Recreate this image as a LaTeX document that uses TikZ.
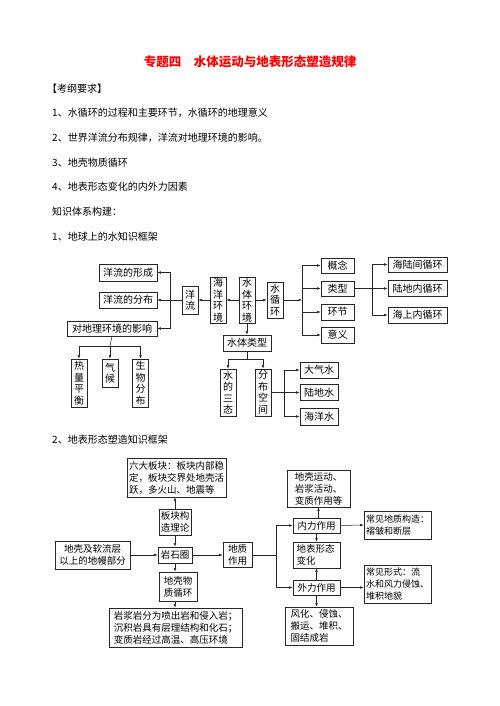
\documentclass[tikz,border=0pt]{standalone}
\usepackage{fontspec}
\setmainfont{Noto Sans CJK SC}
\usetikzlibrary{arrows.meta,shadows}
\tikzset{
  box/.style={draw=black!85, line width=0.6pt, fill=white, inner sep=1pt,
    font=\fontsize{10}{11.5}\selectfont,
    drop shadow={shadow xshift=0.8pt, shadow yshift=-0.8pt, fill=black!50}},
  vbox/.style={box, align=center, minimum width=16pt},
  tbox/.style={box, align=left, inner xsep=2pt, font=\fontsize{9.5}{12}\selectfont},
  cbox/.style={box, align=center, font=\fontsize{9.5}{12}\selectfont},
  txt/.style={anchor=west, inner sep=0pt, font=\fontsize{10}{12}\selectfont},
  link/.style={line width=0.5pt, black!85},
}
\begin{document}
\begin{tikzpicture}[x=1pt,y=-1pt,>={Latex[length=3.5pt,width=2.6pt]}]
            \useasboundingbox (0,0) rectangle (500,706);
            \node[font=\fontsize{12.5}{15}\selectfont\bfseries, text=red] (title) at (250,62) {专题四　水体运动与地表形态塑造规律};
            \node[txt] (req) at (47,89) {【考纲要求】};
            \node[txt] (req1) at (52,113) {1、水循环的过程和主要环节，水循环的地理意义};
            \node[txt] (req2) at (52,138) {2、世界洋流分布规律，洋流对地理环境的影响。};
            \node[txt] (req3) at (52,163) {3、地壳物质循环};
            \node[txt] (req4) at (52,187) {4、地表形态变化的内外力因素};
            \node[txt] (know) at (52,212) {知识体系构建：};
            \node[txt] (part1) at (52,237) {1、地球上的水知识框架};
            \node[txt] (part2) at (52,440) {2、地表形态塑造知识框架};
            \node[box, minimum width=58pt, minimum height=17pt] (xc) at (128,272.5) {洋流的形成};
            \node[box, minimum width=58pt, minimum height=16pt] (fb) at (128,300) {洋流的分布};
            \node[box, minimum width=90pt, minimum height=15pt] (yx) at (112,328.5) {对地理环境的影响};
            \node[vbox, minimum height=28pt] (yl) at (190,300) {洋\\流};
            \node[vbox, minimum height=46pt] (hy) at (218,300) {海\\洋\\环\\境};
            \node[vbox, minimum height=46pt] (st) at (247,300) {水\\体\\环\\境};
            \node[vbox, minimum height=36pt] (sx) at (275,300) {水\\循\\环};
            \node[box, minimum width=33pt, minimum height=15pt] (gn) at (337.5,265.5) {概念};
            \node[box, minimum width=33pt, minimum height=15pt] (lx) at (337.5,288.5) {类型};
            \node[box, minimum width=33pt, minimum height=16pt] (hj) at (337.5,312) {环节};
            \node[box, minimum width=33pt, minimum height=16pt] (yy) at (337.5,335) {意义};
            \node[box, minimum width=59pt, minimum height=15pt] (hl) at (417.5,264.5) {海陆间循环};
            \node[box, minimum width=59pt, minimum height=16pt] (ldn) at (417.5,288.5) {陆地内循环};
            \node[box, minimum width=59pt, minimum height=16pt] (hs) at (417.5,315) {海上内循环};
            \node[box, minimum width=48pt, minimum height=16pt] (lxt) at (247,343) {水体类型};
            \node[vbox, minimum height=47pt] (sd) at (228,392.5) {水\\的\\三\\态};
            \node[vbox, minimum height=47pt] (fk) at (263,392.5) {分\\布\\空\\间};
            \node[box, minimum width=38pt, minimum height=16pt] (dq) at (319,370) {大气水};
            \node[box, minimum width=38pt, minimum height=16pt] (ls) at (319,392.5) {陆地水};
            \node[box, minimum width=38pt, minimum height=17pt] (hys) at (319,416.5) {海洋水};
            \node[vbox, minimum height=48pt] (rl) at (79,383) {热\\量\\平\\衡};
            \node[vbox, minimum height=28pt] (qh) at (110,373) {气\\候};
            \node[vbox, minimum height=48pt] (sw) at (140.5,383) {生\\物\\分\\布};
            \coordinate (b1) at (170,300);
            \coordinate (s1) at (302,300);
            \coordinate (l1) at (372,288.5);
            \coordinate (f1) at (284,392.5);
            \coordinate (d1) at (110,346);
            \coordinate (t1) at (247,359);
            \draw[link,->] (st.west) -- (hy.east);
            \draw[link,->] (hy.west) -- (yl.east);
            \draw[link,->] (yl.west) -- (fb.east);
            \draw[link,->] (b1) |- (xc.east);
            \draw[link,->] (b1) |- (yx.east);
            \draw[link,->] (st.east) -- (sx.west);
            \draw[link,->] (sx.east) -- (s1);
            \draw[link,->] (s1) |- (gn.west);
            \draw[link,->] (s1) |- (lx.west);
            \draw[link,->] (s1) |- (hj.west);
            \draw[link,->] (s1) |- (yy.west);
            \draw[link] (lx.east) -- (l1);
            \draw[link,->] (l1) |- (hl.west);
            \draw[link,->] (l1) -- (ldn.west);
            \draw[link,->] (l1) |- (hs.west);
            \draw[link,->] (st.south) -- (lxt.north);
            \draw[link] (lxt.south) -- (t1);
            \draw[link,->] (t1) -| (sd.north);
            \draw[link,->] (t1) -| (fk.north);
            \draw[link] (fk.east) -- (f1);
            \draw[link,->] (f1) |- (dq.west);
            \draw[link,->] (f1) -- (ls.west);
            \draw[link,->] (f1) |- (hys.west);
            \draw[link] (yx.south) -- (d1);
            \draw[link,->] (d1) -| (rl.north);
            \draw[link,->] (d1) -- (qh.north);
            \draw[link,->] (d1) -| (sw.north);
            \node[tbox, minimum width=99pt, minimum height=39pt] (ld6) at (176.5,477.5) {六大板块：板块内部稳\\定，板块交界处地壳活\\跃，多火山、地震等};
            \node[cbox, minimum width=32pt, minimum height=26pt] (bk) at (175,522) {板块构\\造理论};
            \node[box, font=\fontsize{9.5}{12}\selectfont, minimum width=34pt, minimum height=16pt] (yq) at (175,555) {岩石圈};
            \node[cbox, minimum width=75pt, minimum height=28pt] (dk) at (92.5,555) {地壳及软流层\\以上的地幔部分};
            \node[cbox, minimum width=38pt, minimum height=29pt] (wz) at (178,586.5) {地壳物\\质循环};
            \node[tbox, minimum width=133pt, minimum height=39pt] (yj) at (175.5,627.5) {岩浆岩分为喷出岩和侵入岩；\\沉积岩具有层理结构和化石；\\变质岩经过高温、高压环境};
            \node[cbox, minimum width=29pt, minimum height=25pt] (dz) at (237.5,555) {地质\\作用};
            \node[box, font=\fontsize{9.5}{12}\selectfont, minimum width=47pt, minimum height=15pt] (nl) at (316.5,525.5) {内力作用};
            \node[tbox, minimum width=63pt, minimum height=37pt] (dy) at (318.5,488.5) {地壳运动、\\岩浆活动、\\变质作用等};
            \node[tbox, minimum width=47pt, minimum height=26pt, text width=40pt] (bx) at (316.5,555) {地表形态\\变化};
            \node[box, font=\fontsize{9.5}{12}\selectfont, minimum width=47pt, minimum height=15pt] (wl) at (316.5,587.5) {外力作用};
            \node[tbox, minimum width=68pt, minimum height=38pt] (fh) at (319,626) {风化、侵蚀、\\搬运、堆积、\\固结成岩};
            \node[tbox, font=\fontsize{9}{12}\selectfont, minimum width=65pt, minimum height=28pt] (gz) at (397.5,525) {常见地质构造：\\褶皱和断层};
            \node[tbox, font=\fontsize{9}{12}\selectfont, minimum width=65pt, minimum height=38pt] (xs) at (397.5,584) {常见形式：流\\水和风力侵蚀、\\堆积地貌};
            \coordinate (c1) at (276,555);
            \draw[link,->] (bk.north) -- (bk.north |- ld6.south);
            \draw[link,->] (bk.south) -- (yq.north);
            \draw[link,->] (dk.east) -- (yq.west);
            \draw[link,->] (yq.south) -- (yq.south |- wz.north);
            \draw[link,->] (yq.south |- wz.south) -- (yq.south |- yj.north);
            \draw[link,->] (yq.east) -- (dz.west);
            \draw[link] (dz.east) -- (c1);
            \draw[link,->] (c1) |- (nl.west);
            \draw[link,->] (c1) |- (wl.west);
            \draw[link,->] (nl.north -| dy.south) -- (dy.south);
            \draw[link,->] (nl.south) -- (bx.north);
            \draw[link,->] (wl.north) -- (bx.south);
            \draw[link,->] (wl.south) -- (wl.south |- fh.north);
            \draw[link,->] (nl.east) -- (gz.west);
            \draw[link,->] (wl.east) -- (wl.east -| xs.west);
        \end{tikzpicture}
\end{document}
